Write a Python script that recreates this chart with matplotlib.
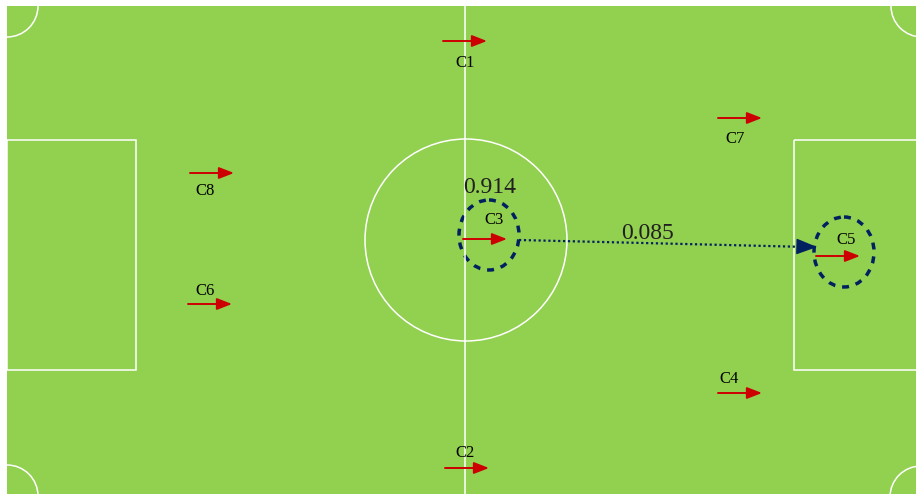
import matplotlib.pyplot as plt
from matplotlib.patches import Rectangle, Circle, Arc, Ellipse

# players: label, arrow start x, arrow y, label position
players = ['C1', 'C2', 'C3', 'C4', 'C5', 'C6', 'C7', 'C8']
arrow_x = [443, 445, 463, 718, 816, 188, 718, 190]
arrow_y = [41, 468, 239, 393, 256, 304, 118, 173]
label_x = [465, 465, 494, 729, 846, 205, 735, 205]
label_y = [63, 453, 220, 379, 240, 291, 139, 191]
arrow_len = 44

# highlighted players (dashed rings) and pass probabilities
ring_centers = [(489, 235), (844, 252)]
prob_labels = ['0.914', '0.085']
prob_pos = [(490, 187), (648, 233)]
pass_start = (519, 240)
pass_end = (817, 247)

GREEN = '#92D050'
RED = '#CC0000'
NAVY = '#002060'

fig = plt.figure(figsize=(9.16, 4.94), dpi=100)
ax = fig.add_axes([0, 0, 1, 1])
ax.set_xlim(0, 916)
ax.set_ylim(494, 0)
ax.axis('off')

# pitch
ax.add_patch(Rectangle((7, 6), 916, 492, facecolor=GREEN, edgecolor='none'))
line_kw = dict(edgecolor='white', facecolor='none', linewidth=1.1)
ax.plot([465, 465], [6, 494], color='white', linewidth=1.1)
ax.add_patch(Circle((466, 240), 101, **line_kw))
ax.add_patch(Rectangle((7, 140), 129, 230, **line_kw))
ax.add_patch(Rectangle((794, 140), 140, 230, **line_kw))
for cx, cy, t1, t2 in [(7, 6, 0, 90), (922, 6, 90, 180),
                       (7, 496, 270, 360), (921, 497, 180, 270)]:
    ax.add_patch(Arc((cx, cy), 62, 62, theta1=t1, theta2=t2,
                     edgecolor='white', linewidth=1.1))

# player arrows and labels
for name, x, y, lx, ly in zip(players, arrow_x, arrow_y, label_x, label_y):
    ax.annotate('', xy=(x + arrow_len, y), xytext=(x, y),
                arrowprops=dict(arrowstyle='-|>,head_length=0.9,head_width=0.35',
                                color=RED, linewidth=1.4, shrinkA=0, shrinkB=0))
    ax.text(lx, ly, name, ha='center', va='center', fontsize=12,
            family='Liberation Serif', color='black')

# rings
for cx, cy in ring_centers:
    ax.add_patch(Ellipse((cx, cy), 60, 70, edgecolor=NAVY, facecolor='none',
                         linewidth=2.5, linestyle=(0, (2, 2))))

# pass line (dotted shaft + solid head)
ax.plot([pass_start[0], pass_end[0] - 8], [pass_start[1], pass_end[1]],
        color=NAVY, linewidth=1.6, linestyle=(0, (1, 1.2)))
ax.annotate('', xy=pass_end, xytext=(pass_end[0] - 16, pass_end[1] - 0.4),
            arrowprops=dict(arrowstyle='-|>,head_length=1.3,head_width=0.5',
                            color=NAVY, linewidth=1.0, shrinkA=0, shrinkB=0))

for txt, (px, py) in zip(prob_labels, prob_pos):
    ax.text(px, py, txt, ha='center', va='center', fontsize=17,
            family='Liberation Serif', color='#202020')

fig.savefig('out.png', dpi=100)
